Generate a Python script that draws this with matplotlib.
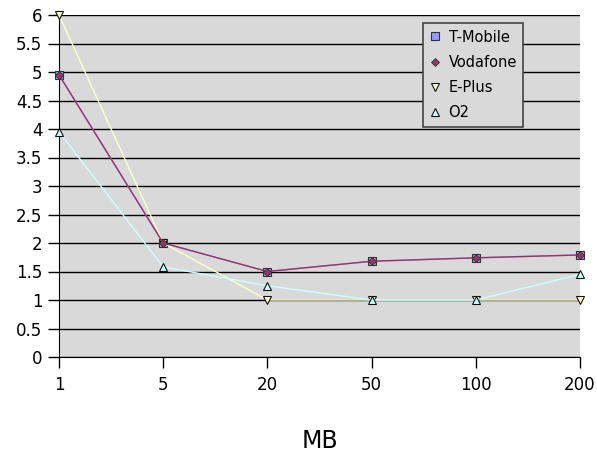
import matplotlib
matplotlib.use("Agg")
import matplotlib.pyplot as plt

categories = ["1", "5", "20", "50", "100", "200"]
t_mobile = [4.95, 2.0, 1.5, 1.68, 1.74, 1.79]
vodafone = [4.95, 2.0, 1.5, 1.68, 1.74, 1.79]
e_plus = [6.0, 2.0, 1.0, 1.0, 1.0, 1.0]
o2 = [3.95, 1.58, 1.25, 1.0, 1.0, 1.45]
y_ticks = [0, 0.5, 1, 1.5, 2, 2.5, 3, 3.5, 4, 4.5, 5, 5.5, 6]
y_labels = ["0", "0.5", "1", "1.5", "2", "2.5", "3", "3.5", "4", "4.5", "5", "5.5", "6"]

fig = plt.figure(figsize=(5.97, 4.54), dpi=100)
ax = fig.add_axes([59/597, 1-357/454, 521/597, 342/454])
ax.set_facecolor("#d9d9d9")
x = list(range(len(categories)))

ax.plot(x, t_mobile, color="#9999ff", lw=1, marker="s", ms=6, mfc="#9999ff", mec="#333333", mew=0.8, label="T-Mobile", zorder=3, clip_on=False)
ax.plot(x, vodafone, color="#993366", lw=1, marker="D", ms=4, mfc="#993366", mec="#333333", mew=0.6, label="Vodafone", zorder=4, clip_on=False)
ax.plot(x, e_plus, color="#ffffcc", lw=1, marker="v", ms=6, mfc="#ffffcc", mec="#111111", mew=0.8, label="E-Plus", zorder=3, clip_on=False)
ax.plot(x, o2, color="#ccffff", lw=1, marker="^", ms=6, mfc="#ccffff", mec="#111111", mew=0.8, label="O2", zorder=3, clip_on=False)

ax.set_xlim(0, len(categories)-1)
ax.set_ylim(0, 6)
ax.set_yticks(y_ticks)
ax.set_yticklabels(y_labels, fontsize=12)
ax.set_xticks(x)
ax.set_xticklabels(categories, fontsize=12)
ax.yaxis.grid(True, color="black", lw=1)
ax.set_axisbelow(True)
for s in ["top", "right"]:
    ax.spines[s].set_visible(False)
ax.spines["left"].set_color("black")
ax.spines["bottom"].set_color("black")
ax.tick_params(axis="both", direction="out", length=8, width=1, pad=4)
ax.tick_params(axis="x", pad=6)
ax.set_xlabel("MB", fontsize=17, labelpad=25)

leg = ax.legend(loc="upper left", bbox_to_anchor=(364/521, 334/342), fontsize=10.5,
                frameon=True, fancybox=False, edgecolor="#444444", facecolor="#d9d9d9",
                framealpha=1, handlelength=0.7, handletextpad=0.6, borderpad=0.45,
                borderaxespad=0, labelspacing=0.7)
leg.get_frame().set_linewidth(1.2)
for h in leg.get_lines():
    h.set_linestyle("none")
fig.savefig("out.png", dpi=100)
